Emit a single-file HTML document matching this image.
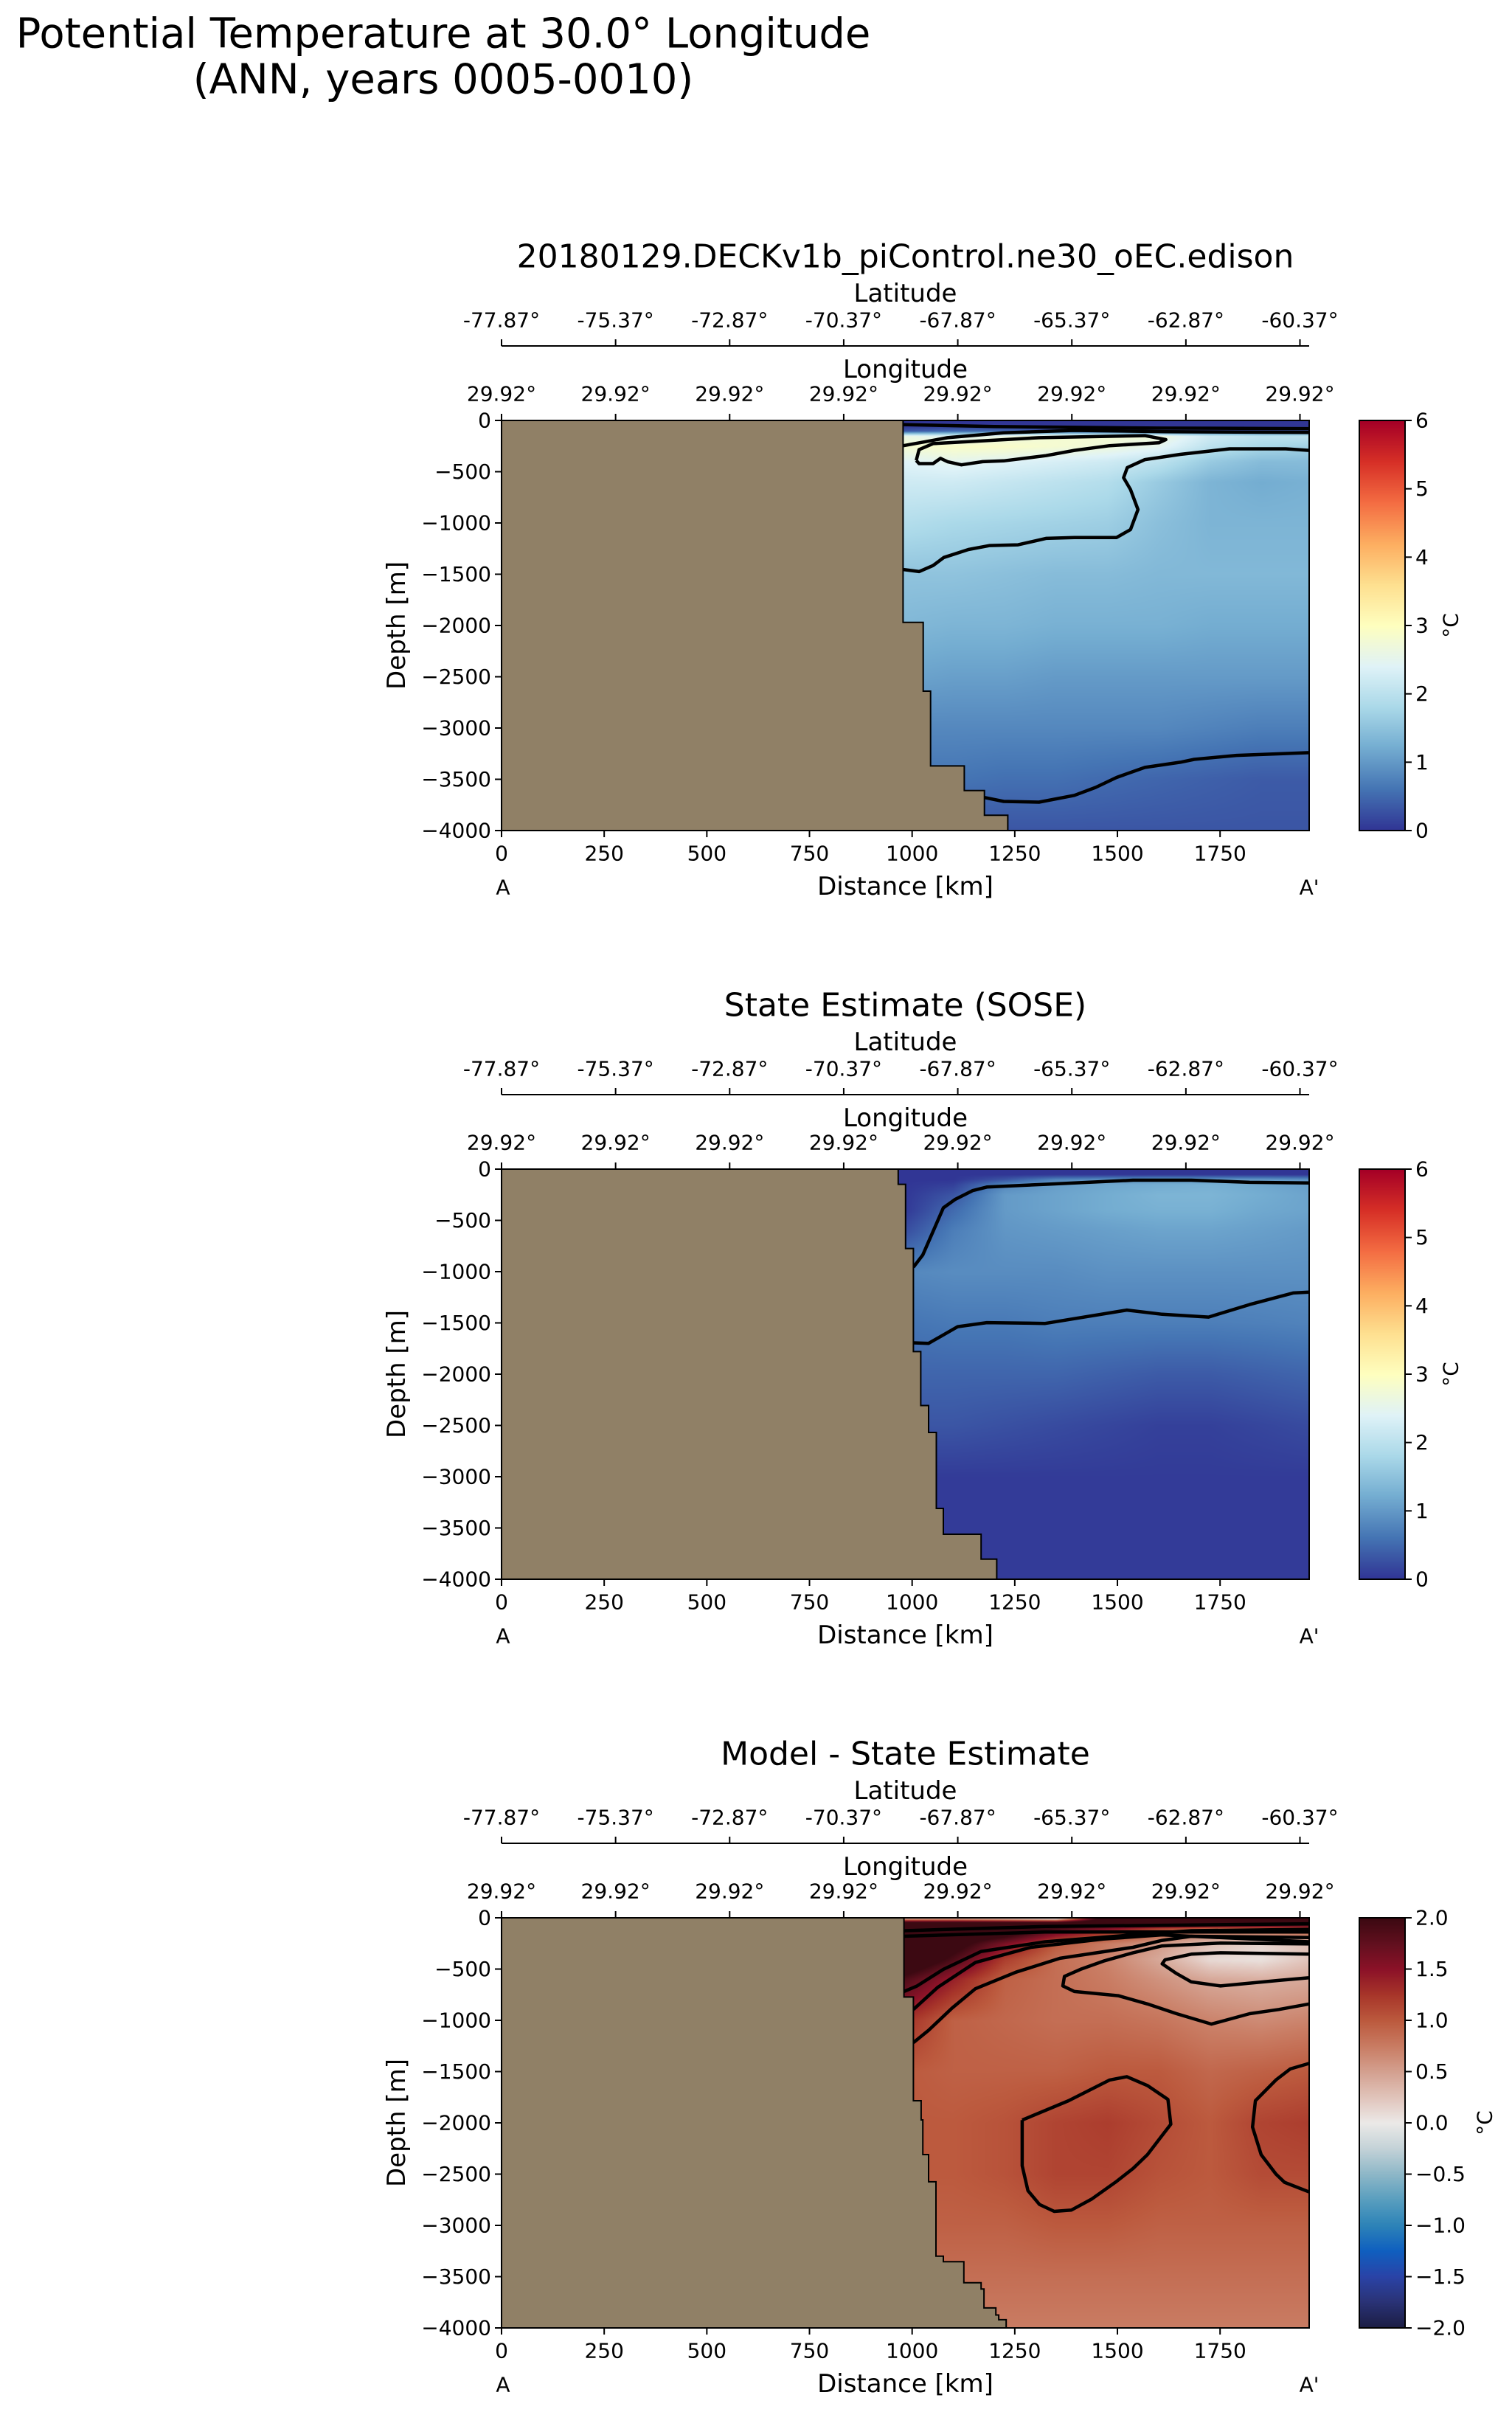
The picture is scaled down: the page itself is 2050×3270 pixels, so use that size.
<!DOCTYPE html>
<html><head><meta charset="utf-8">
<style>
html,body{margin:0;padding:0;background:#fff;}
#root{position:relative;width:2050px;height:3270px;overflow:hidden;background:#fff;font-family:"DejaVu Sans","Liberation Sans",sans-serif;}
canvas{position:absolute;}
svg{position:absolute;left:0;top:0;}
</style></head>
<body>
<div id="root">
<svg id="svg" width="2050" height="3270"></svg>
</div>
<script>
// ---------- data ----------
const kmGrid = [975,1100,1225,1350,1475,1600,1725,1850,1967];
const depthGrid = [0,50,100,150,250,400,600,1000,1500,2000,2500,3000,3500,4000];
const modelTemp = [
[0,0,0,0,0,0,0,0,0],
[0,0,0,0,0,0,0,0,0],
[0.3,0.5,0.5,0.3,0.2,0.2,0.2,0.3,0.4],
[2.6,2.4,2.6,2.8,2.8,2.7,2.2,2.0,2.0],
[2.8,2.9,2.9,2.8,2.7,2.5,2.0,1.8,1.7],
[2.4,2.5,2.4,2.3,2.2,2.0,1.6,1.4,1.4],
[2.2,2.2,2.1,2.0,1.9,1.6,1.3,1.2,1.25],
[1.9,1.8,1.75,1.7,1.65,1.45,1.3,1.3,1.3],
[1.5,1.5,1.45,1.4,1.4,1.35,1.35,1.35,1.35],
[1.35,1.3,1.3,1.25,1.25,1.25,1.2,1.2,1.2],
[1.1,1.05,1.05,1.0,1.0,1.0,1.0,1.0,1.0],
[0.8,0.8,0.8,0.8,0.8,0.8,0.75,0.7,0.7],
[0.6,0.6,0.55,0.55,0.5,0.45,0.4,0.35,0.35],
[0.3,0.3,0.3,0.3,0.3,0.3,0.3,0.3,0.3]];
const soseTemp = [
[0,0,0,0,0,0,0,0,0],
[0,0,0,0,0,0,0,0,0],
[0,0,0.3,0.8,0.9,1.0,1.0,1.0,0.9],
[0,0.1,0.8,1.05,1.15,1.2,1.25,1.15,1.05],
[0,0.3,1.0,1.1,1.2,1.3,1.3,1.2,1.1],
[0,0.5,1.0,1.1,1.2,1.25,1.25,1.15,1.1],
[0.2,0.7,0.95,1.0,1.05,1.1,1.1,1.05,1.0],
[0.8,0.85,0.85,0.85,0.9,0.9,0.9,0.9,0.9],
[0.6,0.65,0.65,0.7,0.7,0.7,0.7,0.72,0.75],
[0.45,0.45,0.45,0.45,0.4,0.35,0.35,0.4,0.45],
[0.3,0.3,0.25,0.2,0.15,0.1,0.1,0.15,0.2],
[0.05,0.05,0.05,0.05,0.05,0.05,0.05,0.05,0.05],
[0.05,0.05,0.05,0.05,0.05,0.05,0.05,0.05,0.05],
[0.05,0.05,0.05,0.05,0.05,0.05,0.05,0.05,0.05]];
const diffTemp = [
[0.2,0.2,0.0,-0.3,2.5,2.5,2.5,2.5,2.5],
[2.5,2.5,2.5,2.5,2.5,2.5,2.5,2.5,2.5],
[2.5,2.5,2.5,2.0,1.6,1.2,1.0,1.0,1.0],
[2.5,2.4,2.2,1.6,1.2,0.9,0.7,0.7,0.8],
[2.5,2.2,1.6,1.0,0.75,0.55,0.3,0.15,0.3],
[2.5,1.9,1.2,0.85,0.7,0.45,0.1,0.05,0.25],
[1.9,1.4,0.95,0.85,0.75,0.6,0.45,0.4,0.45],
[1.3,0.95,0.9,0.85,0.85,0.8,0.7,0.65,0.7],
[1.0,0.95,0.95,0.95,1.0,1.0,0.9,0.95,1.0],
[1.0,1.0,1.05,1.15,1.2,1.1,1.0,1.15,1.2],
[1.0,1.0,1.05,1.15,1.15,1.05,1.0,1.1,1.1],
[0.95,0.95,0.95,1.0,1.0,0.95,0.95,0.95,0.95],
[0.85,0.85,0.85,0.85,0.85,0.85,0.85,0.85,0.85],
[0.75,0.75,0.75,0.75,0.75,0.75,0.75,0.75,0.75]];

const land1Km = [978,1027,1045,1127,1176,1233];
const land1Depth = [1970,2640,3370,3610,3850,4000];
const land2Km = [966,984,1003,1021,1040,1059,1076,1168,1206];
const land2Depth = [148,774,1780,2306,2568,3309,3561,3804,4000];
const land3Km = [980,1003,1022,1026,1040,1058,1076,1126,1168,1175,1204,1211,1229];
const land3Depth = [773,1784,1971,2309,2575,3300,3354,3560,3620,3805,3874,3920,4000];

const c1A = [[979,246],[1086,168],[1223,121],[1395,97],[1618,109],[1967,117]];
const c1S = [[979,40],[1200,60],[1600,75],[1967,80]];
const c1B = [[1010,390],[1017,285],[1051,226],[1309,168],[1567,148],[1618,187],[1601,218],[1481,246],[1395,292],[1326,343],[1223,394],[1172,402],[1120,433],[1086,402],[1069,370],[1051,421],[1017,421],[1010,390]];
const c1C = [[979,1454],[1017,1474],[1051,1415],[1077,1337],[1137,1259],[1189,1220],[1258,1213],[1326,1150],[1395,1142],[1498,1142],[1532,1064],[1550,869],[1532,675],[1515,558],[1524,460],[1567,382],[1653,331],[1773,277],[1910,277],[1967,292]];
const c1D = [[1175,3677],[1223,3716],[1309,3723],[1395,3657],[1447,3579],[1498,3482],[1567,3384],[1653,3334],[1687,3306],[1790,3267],[1967,3240]];

const c2A = [[1003,957],[1026,836],[1076,378],[1104,297],[1147,210],[1182,175],[1324,148],[1538,108],[1680,108],[1822,129],[1967,135]];
const c2B = [[1003,1694],[1040,1699],[1111,1537],[1182,1497],[1324,1505],[1523,1375],[1609,1416],[1722,1443],[1822,1321],[1928,1208],[1967,1200]];

const c3S1 = [[980,126],[1324,85],[1967,58]];
const c3S2 = [[980,180],[1324,139],[1967,139]];
const c3A = [[980,719],[1012,665],[1076,503],[1168,328],[1324,234],[1538,166],[1680,126],[1967,112]];
const c3B = [[1003,894],[1062,679],[1154,436],[1289,288],[1466,207],[1609,166],[1967,234]];
const c3C = [[1003,1218],[1040,1097],[1097,881],[1154,692],[1253,530],[1360,395],[1538,288],[1609,220],[1680,180],[1967,193]];
const c3D = [[1967,840],[1893,894],[1822,935],[1729,1037],[1644,935],[1573,840],[1502,760],[1395,719],[1367,665],[1371,571],[1410,503],[1466,422],[1538,341],[1609,274],[1751,247],[1967,255]];
const c3E = [[1967,584],[1893,611],[1751,665],[1680,625],[1644,544],[1609,449],[1616,409],[1680,355],[1751,341],[1967,355]];
const c3F = [[1268,1973],[1268,2418],[1282,2661],[1310,2796],[1346,2863],[1388,2850],[1438,2742],[1495,2580],[1538,2445],[1573,2310],[1609,2122],[1630,2014],[1623,1771],[1573,1636],[1523,1550],[1481,1582],[1381,1784],[1268,1973]];
const c3G = [[1967,1420],[1921,1474],[1886,1582],[1836,1784],[1829,2041],[1850,2310],[1886,2499],[1907,2580],[1967,2674]];

const distTicks = [0,250,500,750,1000,1250,1500,1750];
const depthTicks = [0,500,1000,1500,2000,2500,3000,3500,4000];
const latTickLabels = ["-77.87°","-75.37°","-72.87°","-70.37°","-67.87°","-65.37°","-62.87°","-60.37°"];
const lonTickLabels = ["29.92°","29.92°","29.92°","29.92°","29.92°","29.92°","29.92°","29.92°"];
const tempTicks = [0,1,2,3,4,5,6];
const diffTicks = [-2,-1.5,-1,-0.5,0,0.5,1,1.5,2];

// ---------- colormaps ----------
const rdylbu = ["#313695","#4575b4","#74add1","#abd9e9","#e0f3f8","#ffffbf","#fee090","#fdae61","#f46d43","#d73027","#a50026"];
const balance = ["#1c1e45","#2a3377","#2a44a8","#1060c0","#2e84b8","#5a9fbf","#8fb8c8","#c5d3d8","#eceae8","#e1c4bb","#d4a190","#c97c63","#bc5a3e","#a8362a","#8c1228","#62101f","#3c0912"];
function hex(h){return [parseInt(h.slice(1,3),16),parseInt(h.slice(3,5),16),parseInt(h.slice(5,7),16)];}
function cmap(stops,t){t=Math.max(0,Math.min(1,t));const n=stops.length-1;const f=t*n;const i=Math.min(n-1,Math.floor(f));const u=f-i;const a=hex(stops[i]),b=hex(stops[i+1]);return [a[0]+(b[0]-a[0])*u,a[1]+(b[1]-a[1])*u,a[2]+(b[2]-a[2])*u];}

// ---------- layout ----------
const AX_L=680, AX_R=1775, AX_H=556, KM_MAX=1967, D_MAX=4000;
const CB_L=1843, CB_R=1905;
const TICK=28, LAB=34;
const panels=[
 {top:570,title:"20180129.DECKv1b_piControl.ne30_oEC.edison",grid:modelTemp,stops:rdylbu,vmin:0,vmax:6,ticks:tempTicks,fmt:v=>String(v),landKm:land1Km,landD:land1Depth,contours:[c1S,c1A,c1B,c1C,c1D],name:"model",cbx:1967},
 {top:1585,title:"State Estimate (SOSE)",grid:soseTemp,stops:rdylbu,vmin:0,vmax:6,ticks:tempTicks,fmt:v=>String(v),landKm:land2Km,landD:land2Depth,contours:[c2A,c2B],name:"sose",cbx:1967},
 {top:2600,title:"Model - State Estimate",grid:diffTemp,stops:balance,vmin:-2,vmax:2,ticks:diffTicks,fmt:v=>(v<0?"\u2212":"")+Math.abs(v).toFixed(1),landKm:land3Km,landD:land3Depth,contours:[c3S1,c3S2,c3A,c3B,c3C,c3D,c3E,c3F,c3G],name:"difference",cbx:2013}
];
const xS=km=>AX_L+km/KM_MAX*(AX_R-AX_L);
const NS="http://www.w3.org/2000/svg";
const svg=document.getElementById('svg');
const root=document.getElementById('root');
function el(tag,attrs,parent){const e=document.createElementNS(NS,tag);for(const k in attrs)e.setAttribute(k,attrs[k]);(parent||svg).appendChild(e);return e;}
function txt(s,x,y,size,anchor,name,extra){const t=el('text',Object.assign({x:x,y:y,'font-size':size,'text-anchor':anchor||'middle','dominant-baseline':'central',fill:'#000','font-family':'DejaVu Sans, Liberation Sans, sans-serif'},extra||{}));t.textContent=s;


return t;}
function interp(grid,km,d){
 let i=0;while(i<kmGrid.length-2&&km>kmGrid[i+1])i++;
 let j=0;while(j<depthGrid.length-2&&d>depthGrid[j+1])j++;
 let u=(km-kmGrid[i])/(kmGrid[i+1]-kmGrid[i]);u=Math.max(0,Math.min(1,u));
 let v=(d-depthGrid[j])/(depthGrid[j+1]-depthGrid[j]);v=Math.max(0,Math.min(1,v));
 const a=grid[j][i],b=grid[j][i+1],c=grid[j+1][i],e=grid[j+1][i+1];
 return (a*(1-u)+b*u)*(1-v)+(c*(1-u)+e*u)*v;
}

txt("Potential Temperature at 30.0° Longitude",601,46,56,'middle','figure-title-line1');
txt("(ANN, years 0005-0010)",601,108,56,'middle','figure-title-line2');

panels.forEach((p,pi)=>{
 const T=p.top, B=T+AX_H;
 const yS=d=>T+d/D_MAX*AX_H;
 const cv=document.createElement('canvas');
 cv.width=AX_R-AX_L;cv.height=AX_H;cv.style.left=AX_L+'px';cv.style.top=T+'px';
 
 
 root.insertBefore(cv,svg);
 const ctx=cv.getContext('2d');const img=ctx.createImageData(cv.width,cv.height);
 for(let y=0;y<cv.height;y++){const d=y/AX_H*D_MAX;for(let x=0;x<cv.width;x++){const km=x/cv.width*KM_MAX;const val=interp(p.grid,km,d);const c=cmap(p.stops,(val-p.vmin)/(p.vmax-p.vmin));const k=(y*cv.width+x)*4;img.data[k]=c[0];img.data[k+1]=c[1];img.data[k+2]=c[2];img.data[k+3]=255;}}
 ctx.putImageData(img,0,0);
 const cb=document.createElement('canvas');cb.width=CB_R-CB_L;cb.height=AX_H;cb.style.left=CB_L+'px';cb.style.top=T+'px';
 
 
 root.insertBefore(cb,svg);
 const cc=cb.getContext('2d');
 for(let y=0;y<AX_H;y++){const c=cmap(p.stops,1-y/(AX_H-1));cc.fillStyle=`rgb(${c[0]|0},${c[1]|0},${c[2]|0})`;cc.fillRect(0,y,cb.width,1);}
 const g=el('g',{});
 
 
 p.contours.forEach((c,ci)=>{
  const pl=el('polyline',{points:c.map(q=>xS(q[0]).toFixed(1)+','+yS(q[1]).toFixed(1)).join(' '),fill:'none',stroke:'#000','stroke-width':4.5,'stroke-linejoin':'round'},g);
  
  
 });
 let pts=[[0,0],[p.landKm[0],0]];
 for(let i=0;i<p.landKm.length;i++){pts.push([p.landKm[i],i===0?0:p.landD[i-1]]);pts.push([p.landKm[i],p.landD[i]]);}
 pts.push([0,D_MAX]);
 const lp=el('polygon',{points:pts.map(q=>xS(q[0]).toFixed(1)+','+yS(q[1]).toFixed(1)).join(' '),fill:'#908066',stroke:'#000','stroke-width':2},g);
 
 
 const fr=el('rect',{x:AX_L,y:T,width:AX_R-AX_L,height:AX_H,fill:'none',stroke:'#000','stroke-width':2},g);
 
 
 const cf=el('rect',{x:CB_L,y:T,width:CB_R-CB_L,height:AX_H,fill:'none',stroke:'#000','stroke-width':2},g);
 
 
 distTicks.forEach(v=>{const x=xS(v);el('line',{x1:x,y1:B,x2:x,y2:B+9,stroke:'#000','stroke-width':2},g);txt(String(v),x,B+31,TICK,'middle','x-tick-label');});
 txt("Distance [km]",(AX_L+AX_R)/2,T+632,LAB,'middle','x-axis-title');
 txt("A",AX_L+2,T+633,TICK,'middle','section-start-label');
 txt("A'",AX_R,T+633,TICK,'middle','section-end-label');
 depthTicks.forEach(v=>{const y=yS(v);el('line',{x1:AX_L-9,y1:y,x2:AX_L,y2:y,stroke:'#000','stroke-width':2},g);txt(v===0?"0":"\u2212"+v,AX_L-14,y,TICK,'end','y-tick-label');});
 txt("Depth [m]",538,T+AX_H/2,LAB,'middle','y-axis-title',{transform:`rotate(-90 538 ${T+AX_H/2})`});
 const spacing=(1762.5-AX_L)/7;
 lonTickLabels.forEach((s,i)=>{const x=AX_L+i*spacing;el('line',{x1:x,y1:T-9,x2:x,y2:T,stroke:'#000','stroke-width':2},g);txt(s,x,T-36,TICK,'middle','longitude-tick-label');});
 txt("Longitude",(AX_L+AX_R)/2,T-69,LAB,'middle','longitude-axis-title');
 el('line',{x1:AX_L,y1:T-101,x2:AX_R,y2:T-101,stroke:'#000','stroke-width':2},g);
 latTickLabels.forEach((s,i)=>{const x=AX_L+i*spacing;el('line',{x1:x,y1:T-110,x2:x,y2:T-101,stroke:'#000','stroke-width':2},g);txt(s,x,T-136,TICK,'middle','latitude-tick-label');});
 txt("Latitude",(AX_L+AX_R)/2,T-172,LAB,'middle','latitude-axis-title');
 txt(p.title,(AX_L+AX_R)/2,T-222,44,'middle','panel-title');
 p.ticks.forEach(v=>{const y=B-(v-p.vmin)/(p.vmax-p.vmin)*AX_H;el('line',{x1:CB_R,y1:y,x2:CB_R+9,y2:y,stroke:'#000','stroke-width':2},g);txt(p.fmt(v),CB_R+14,y,TICK,'start','colorbar-tick-label');});
 txt("°C",p.cbx,T+AX_H/2,TICK,'middle','colorbar-label',{transform:`rotate(-90 ${p.cbx} ${T+AX_H/2})`});
});
</script>
</body></html>
